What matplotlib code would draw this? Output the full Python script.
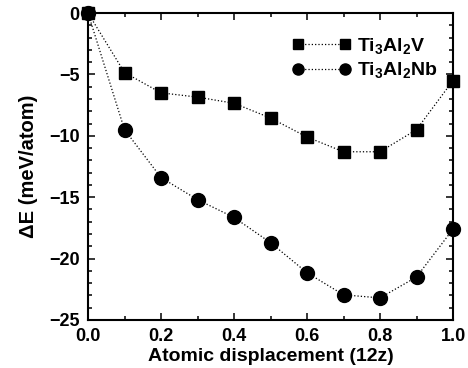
import numpy as np
import matplotlib
matplotlib.use('Agg')
import matplotlib.pyplot as plt
from matplotlib.ticker import MultipleLocator

plt.rcParams.update({'font.family': 'Liberation Sans', 'font.weight': 'bold',
                     'mathtext.fontset': 'custom',
                     'mathtext.rm': 'Liberation Sans:bold',
                     'mathtext.bf': 'Liberation Sans:bold',
                     'mathtext.it': 'Liberation Sans:bold'})

disp = [0.0, 0.1, 0.2, 0.3, 0.4, 0.5, 0.6, 0.7, 0.8, 0.9, 1.0]
e_v = [0.0, -4.85, -6.5, -6.85, -7.35, -8.55, -10.1, -11.3, -11.3, -9.5, -5.5]
e_nb = [0.0, -9.5, -13.4, -15.2, -16.65, -18.7, -21.15, -22.95, -23.2, -21.5, -17.6]

fig = plt.figure(figsize=(4.68, 3.68), dpi=100)
ax = fig.add_axes([88 / 468, 48 / 368, 365 / 468, 307 / 368])

ax.plot(disp, e_v, 'k:', marker='s', markersize=8.5, linewidth=0.9,
        label=r'Ti$_3$Al$_2$V', clip_on=False, zorder=3)
ax.plot(disp, e_nb, 'k:', marker='o', markersize=10, linewidth=0.9,
        label=r'Ti$_3$Al$_2$Nb', clip_on=False, zorder=3)

ax.set_xlim(0, 1)
ax.set_ylim(-25, 0)
ax.xaxis.set_major_locator(MultipleLocator(0.2))
ax.xaxis.set_minor_locator(MultipleLocator(0.1))
ax.yaxis.set_major_locator(MultipleLocator(5))
ax.yaxis.set_minor_locator(MultipleLocator(1))
ax.tick_params(which='both', direction='in', top=True, right=True, labelsize=13, width=1.1)
ax.tick_params(which='major', length=5, pad=6)
ax.tick_params(which='minor', length=3)
ax.set_xticklabels(['%.1f' % v for v in ax.get_xticks()])
for s in ax.spines.values():
    s.set_linewidth(1.5)

ax.set_xlabel('Atomic displacement (12z)', fontsize=14, fontweight='bold', labelpad=2)
ax.set_ylabel('\u0394E (meV/atom)', fontsize=14.5, fontweight='bold', labelpad=8)

ax.legend(loc='upper right', bbox_to_anchor=(1.01, 0.99), frameon=False, numpoints=2,
          fontsize=14, markerscale=0.8, handlelength=3.0, handletextpad=0.3,
          labelspacing=0.25, borderaxespad=0.6)

fig.savefig('out.png', dpi=100)
